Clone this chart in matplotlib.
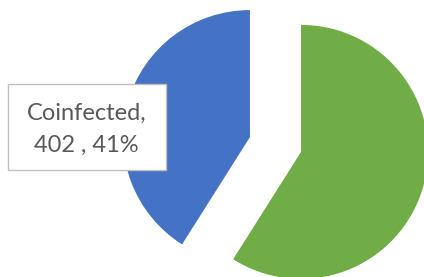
import matplotlib
matplotlib.use("Agg")
import matplotlib.pyplot as plt
from matplotlib.patches import Rectangle

labels = ["Coinfected", "Other"]
values = [402, 578]
colors = ["#4472C4", "#70AD47"]
label_lines = ["Coinfected,", "402 , 41%"]

fig = plt.figure(figsize=(4.24, 2.77), dpi=100)
ax = fig.add_axes([0, 0, 1, 1])

ax.pie(values, colors=colors, startangle=90, counterclock=True,
       radius=127, center=(275.5, 132.5), explode=[26.6, 26.6],
       frame=True)
ax.set_xlim(0, 424)
ax.set_ylim(0, 277)
ax.set_aspect("equal")
ax.axis("off")

ax.add_patch(Rectangle((8, 107), 158, 86, fc="white", ec="#BFBFBF", lw=1, zorder=5))
for line, yb in zip(label_lines, [157, 125]):
    ax.text(86.5, yb, line, ha="center", va="baseline", fontsize=17,
            family=["Lato", "DejaVu Sans"], color="#595959", zorder=6)

fig.savefig("out.png", dpi=100)
